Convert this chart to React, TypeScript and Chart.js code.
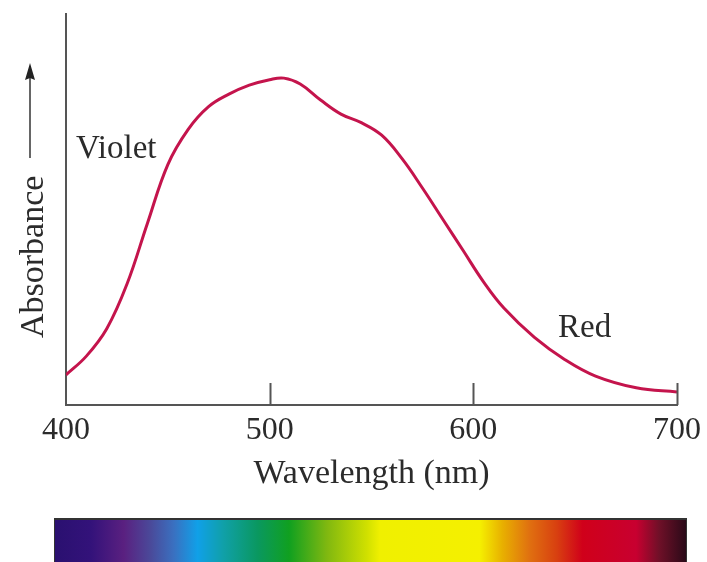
import React, { useEffect, useRef } from "react";
import { Chart, registerables } from "chart.js";

Chart.register(...registerables);

const wavelengths = [400, 410, 420, 430, 440, 450, 460, 470, 480, 490, 500, 507, 515, 525, 535, 545, 555, 565, 575, 585, 595, 605, 615, 630, 645, 660, 680, 700];
const absorbance = [7.7, 12.5, 19.5, 31, 46.5, 61.5, 70.5, 76.3, 79.5, 81.8, 83.2, 83.6, 82.1, 78, 74.4, 72.2, 69, 63, 55.5, 47.5, 39.5, 31.5, 24.8, 17.3, 11.6, 7.4, 4.4, 3.3];
const tickValues = [400, 500, 600, 700];
const tickMarks = [500, 600, 700];
const labelViolet = "Violet";
const labelRed = "Red";
const spectrumColors = ["#2a1070", "#33127a", "#5a2080", "#4a4a9a", "#3a70c0", "#10a0e8", "#10a0a8", "#0a9860", "#10a020", "#80b810", "#d0e000", "#f0f000", "#f5f000", "#e8b000", "#e07010", "#d84010", "#d0001a", "#c80030", "#701028", "#2a0a18"];
const spectrumStops = [0, 5.7, 10.9, 15.2, 18.8, 22.6, 26.7, 32.1, 37.1, 43.1, 49.4, 51.5, 67.3, 70.9, 75.2, 79.5, 83.6, 92.1, 95.7, 100];

const FONT = "'Liberation Serif', 'Times New Roman', serif";
const TEXT = "#2b2b2b";

const decorations = {
  id: "decorations",
  afterDraw(chart: any) {
    const { ctx } = chart;
    const x = chart.scales.x;
    const area = chart.chartArea;
    ctx.save();
    ctx.strokeStyle = "#555";
    ctx.lineWidth = 2;
    tickMarks.forEach((v) => {
      const px = Math.round(x.getPixelForValue(v)) + 0.5;
      ctx.beginPath();
      ctx.moveTo(px, area.bottom);
      ctx.lineTo(px, area.bottom - 22);
      ctx.stroke();
    });
    ctx.fillStyle = TEXT;
    ctx.font = `34px ${FONT}`;
    ctx.translate(43, 338);
    ctx.rotate(-Math.PI / 2);
    ctx.textAlign = "left";
    ctx.textBaseline = "alphabetic";
    ctx.fillText("Absorbance", 0, 0);
    ctx.strokeStyle = "#333";
    ctx.lineWidth = 1.5;
    ctx.beginPath();
    ctx.moveTo(180, -13);
    ctx.lineTo(262, -13);
    ctx.stroke();
    ctx.beginPath();
    ctx.moveTo(275, -13);
    ctx.lineTo(258, -18);
    ctx.lineTo(260, -13);
    ctx.lineTo(258, -8);
    ctx.closePath();
    ctx.fillStyle = "#222";
    ctx.fill();
    ctx.restore();
    ctx.save();
    ctx.fillStyle = TEXT;
    ctx.font = `33px ${FONT}`;
    ctx.textAlign = "left";
    ctx.textBaseline = "alphabetic";
    ctx.fillText(labelViolet, 76, 158);
    ctx.fillText(labelRed, 558, 337);
    ctx.restore();
  },
};

export default function App() {
  const ref = useRef<HTMLCanvasElement>(null);
  useEffect(() => {
    if (!ref.current) return;
    const chart = new Chart(ref.current, {
      type: "line",
      data: {
        datasets: [
          {
            data: wavelengths.map((w, i) => ({ x: w, y: absorbance[i] })),
            borderColor: "#c4144c",
            borderWidth: 3,
            pointRadius: 0,
            tension: 0.4,
            fill: false,
          },
        ],
      },
      options: {
        animation: false,
        responsive: false,
        events: [],
        layout: { padding: { left: 0, right: 30, top: 14, bottom: 62 } },
        plugins: { legend: { display: false }, tooltip: { enabled: false } },
        scales: {
          x: {
            type: "linear",
            min: 400,
            max: 700,
            afterBuildTicks: (s: any) => {
              s.ticks = tickValues.map((v) => ({ value: v }));
            },
            afterFit: (s: any) => {
              s.height = 95;
            },
            grid: { display: false, drawTicks: false },
            border: { display: true, color: "#555", width: 2 },
            ticks: {
              color: TEXT,
              font: { family: FONT, size: 32 },
              padding: 6,
              maxRotation: 0,
              autoSkip: false,
            },
            title: {
              display: true,
              text: "Wavelength (nm)",
              color: TEXT,
              font: { family: FONT, size: 34 },
              padding: { top: 0, bottom: 6 },
            },
          },
          y: {
            min: 0,
            max: 100,
            afterFit: (s: any) => {
              s.width = 66;
            },
            grid: { display: false, drawTicks: false },
            border: { display: true, color: "#555", width: 2 },
            ticks: { display: false },
          },
        },
      },
      plugins: [decorations],
    });
    return () => chart.destroy();
  }, []);

  const gradient = `linear-gradient(to right, ${spectrumColors
    .map((c, i) => `${c} ${spectrumStops[i]}%`)
    .join(", ")})`;

  return (
    <div style={{ position: "absolute", left: 0, top: 0, width: 707, height: 562, background: "#fff", overflow: "hidden" }}>
      <canvas ref={ref} width={707} height={562} style={{ display: "block" }} />
      <div
        style={{
          position: "absolute",
          left: 54,
          top: 518,
          width: 633,
          height: 44,
          background: gradient,
          borderTop: "2px solid #333",
          borderLeft: "1px solid #333",
          borderRight: "1px solid #333",
          boxSizing: "border-box",
        }}
      />
    </div>
  );
}
